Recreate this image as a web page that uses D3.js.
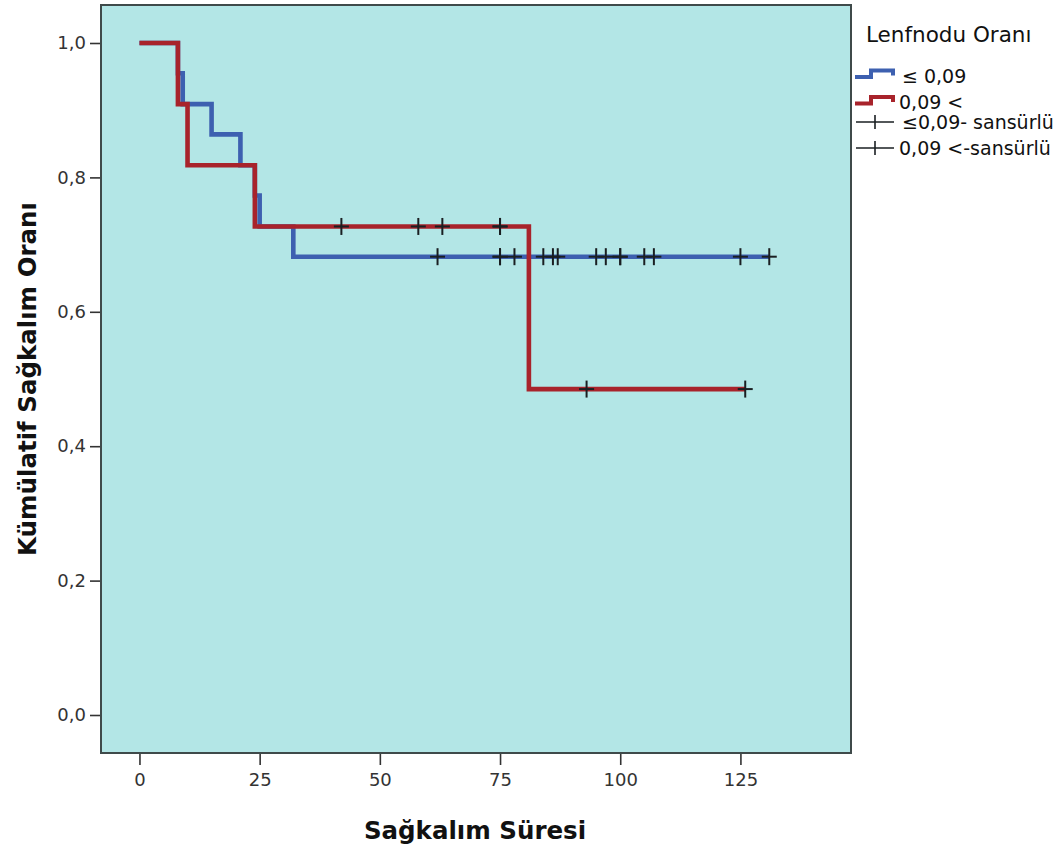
<!DOCTYPE html>
<html>
<head>
<meta charset="utf-8">
<script src="https://cdn.jsdelivr.net/npm/d3@7"></script>
<style>
  html, body { margin: 0; padding: 0; background: #ffffff; }
  svg { display: block; }
  text { font-family: "DejaVu Sans", sans-serif; }
</style>
</head>
<body>
<svg id="chart" width="1062" height="847"></svg>
<script>
// Kaplan-Meier survival curves by lymph node ratio group
const groupLabels = ["≤ 0,09", "0,09 <"];
const censorLabels = ["≤0,09- sansürlü", "0,09 <-sansürlü"];

// Group ≤ 0,09 : event times and survival after each event
const eventTimesLow = [0, 8, 9, 15, 21, 24, 25, 32];
const survivalLow = [1.0, 0.955, 0.909, 0.864, 0.818, 0.773, 0.727, 0.682];
const lastTimeLow = 131;
const censorTimesLow = [62, 75, 75, 78, 84, 86, 87, 95, 97, 100, 100, 105, 107, 125, 131];

// Group 0,09 < : event times and survival after each event
const eventTimesHigh = [0, 8, 10, 24, 81];
const survivalHigh = [1.0, 0.909, 0.818, 0.727, 0.485];
const lastTimeHigh = 126;
const censorTimesHigh = [42, 58, 63, 75, 75, 93, 126];

const xTicks = [0, 25, 50, 75, 100, 125];
const yTicks = [0.0, 0.2, 0.4, 0.6, 0.8, 1.0];

const xTitle = "Sağkalım Süresi";
const yTitle = "Kümülatif Sağkalım Oranı";
const legendTitle = "Lenfnodu Oranı";

const colors = ["#3d60b0", "#a8232b"];

const svg = d3.select("#chart");
const plot = { left: 101, right: 851, top: 5, bottom: 753 };

const x = d3.scaleLinear().domain([-8, 148]).range([plot.left, plot.right]);
const y = d3.scaleLinear().domain([0, 1]).range([715, 43]);

// plot background
svg.append("rect")
  .attr("x", plot.left).attr("y", plot.top)
  .attr("width", plot.right - plot.left).attr("height", plot.bottom - plot.top)
  .attr("fill", "#b3e6e6");

function fmt(v) { return d3.format(".1f")(v).replace(".", ","); }

// y axis
const yAxis = d3.axisLeft(y).tickValues(yTicks).tickSize(11).tickPadding(4).tickFormat(fmt);
const gy = svg.append("g").attr("transform", `translate(${plot.left},0)`).call(yAxis);
gy.select(".domain").remove();
gy.selectAll(".tick line").attr("stroke", "#333").attr("stroke-width", 1.6);
gy.selectAll(".tick text").attr("font-size", 18).attr("fill", "#333")
  .attr("font-family", "DejaVu Sans, sans-serif");

// x axis
const xAxis = d3.axisBottom(x).tickValues(xTicks).tickSize(12).tickPadding(8).tickFormat(d3.format("d"));
const gx = svg.append("g").attr("transform", `translate(0,${plot.bottom})`).call(xAxis);
gx.select(".domain").remove();
gx.selectAll(".tick line").attr("stroke", "#333").attr("stroke-width", 1.6);
gx.selectAll(".tick text").attr("font-size", 18).attr("fill", "#333")
  .attr("font-family", "DejaVu Sans, sans-serif");

// frame
svg.append("rect")
  .attr("x", plot.left).attr("y", plot.top)
  .attr("width", plot.right - plot.left).attr("height", plot.bottom - plot.top)
  .attr("fill", "none").attr("stroke", "#3f4a4a").attr("stroke-width", 2);

// survival step lookup
function survAt(times, surv, t) {
  let s = surv[0];
  for (let i = 0; i < times.length; i++) if (times[i] <= t) s = surv[i];
  return s;
}

const groups = [
  { times: eventTimesLow, surv: survivalLow, last: lastTimeLow, censor: censorTimesLow, color: colors[0] },
  { times: eventTimesHigh, surv: survivalHigh, last: lastTimeHigh, censor: censorTimesHigh, color: colors[1] }
];

const line = d3.line()
  .x(d => x(d[0])).y(d => y(d[1]))
  .curve(d3.curveStepAfter);

groups.forEach(g => {
  const pts = g.times.map((t, i) => [t, g.surv[i]]);
  pts.push([g.last, g.surv[g.surv.length - 1]]);
  svg.append("path")
    .attr("d", line(pts))
    .attr("fill", "none")
    .attr("stroke", g.color)
    .attr("stroke-width", 4.6)
    .attr("stroke-linejoin", "miter")
    .attr("stroke-linecap", "butt");
});

// censor marks
groups.forEach(g => {
  const marks = svg.append("g");
  g.censor.forEach(t => {
    const cx = x(t), cy = y(survAt(g.times, g.surv, t));
    marks.append("line").attr("x1", cx).attr("x2", cx).attr("y1", cy - 8.5).attr("y2", cy + 8.5)
      .attr("stroke", "#1a1f22").attr("stroke-width", 2);
    marks.append("line").attr("x1", cx - 7.5).attr("x2", cx + 7.5).attr("y1", cy).attr("y2", cy)
      .attr("stroke", "#1a1f22").attr("stroke-width", 2);
  });
});

// axis titles
svg.append("text")
  .attr("x", (plot.left + plot.right) / 2 - 1).attr("y", 839)
  .attr("text-anchor", "middle")
  .attr("font-size", 24.5).attr("font-weight", "bold").attr("fill", "#111")
  .text(xTitle);

svg.append("text")
  .attr("transform", `translate(36,${(43 + 715) / 2}) rotate(-90)`)
  .attr("text-anchor", "middle")
  .attr("font-size", 24.5).attr("font-weight", "bold").attr("fill", "#111")
  .text(yTitle);

// legend
const legend = svg.append("g");
legend.append("text").attr("x", 866).attr("y", 42)
  .attr("font-size", 21.5).attr("fill", "#111").text(legendTitle);

const stepIcon = (y0) => `M855,${y0 + 6.5}H871V${y0}H893V${y0 + 5}`;
[75.5 - 5, 99 - 2].forEach((yy, i) => {
  legend.append("path").attr("d", stepIcon(yy)).attr("fill", "none")
    .attr("stroke", colors[i]).attr("stroke-width", 4);
  legend.append("text").attr("x", i === 0 ? 902 : 899).attr("y", yy + 12)
    .attr("font-size", 19).attr("fill", "#111").text(groupLabels[i]);
});

[122, 148].forEach((yy, i) => {
  legend.append("line").attr("x1", 856).attr("x2", 894).attr("y1", yy).attr("y2", yy)
    .attr("stroke", "#1a1f22").attr("stroke-width", 1.6);
  legend.append("line").attr("x1", 875).attr("x2", 875).attr("y1", yy - 7).attr("y2", yy + 7)
    .attr("stroke", "#1a1f22").attr("stroke-width", 1.6);
  legend.append("text").attr("x", i === 0 ? 902 : 899).attr("y", yy + 7)
    .attr("font-size", 19).attr("fill", "#111").text(censorLabels[i]);
});
</script>
</body>
</html>
